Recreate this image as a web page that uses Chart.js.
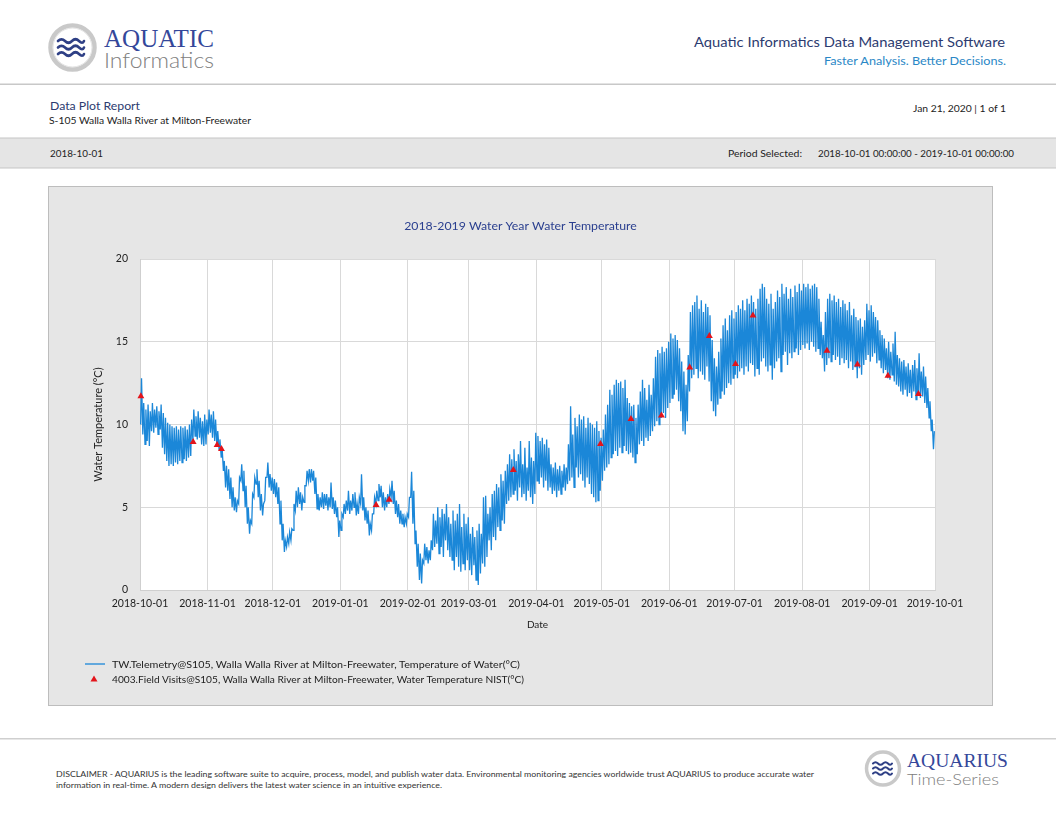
<!DOCTYPE html>
<html>
<head>
<meta charset="utf-8">
<script src="https://cdn.jsdelivr.net/npm/chart.js@4.4.0/dist/chart.umd.min.js"></script>
<style>
  html, body { margin: 0; padding: 0; background: #fff; }
  body { width: 1056px; height: 816px; position: relative; overflow: hidden; font-family: Lato, 'Open Sans', sans-serif; }
  #page { position: absolute; left: 0; top: 0; }
  #chartBox { position: absolute; left: 48px; top: 186px; width: 943px; height: 518px; background: #e6e6e6; border: 1px solid #bdbdbd; }
  #chartWrap { position: absolute; left: 0; top: 0; width: 943px; height: 460px; }
  #legend { position: absolute; left: 0; top: 0; }
</style>
</head>
<body>

<svg id="page" width="1056" height="816" xmlns="http://www.w3.org/2000/svg" font-family="Lato, 'Open Sans', sans-serif">
  <!-- header logo -->
  <circle cx="72.5" cy="47.5" r="22" fill="#fff" stroke="#c9c9c9" stroke-width="4.5"/>
  <circle cx="72.5" cy="47.5" r="19.5" fill="none" stroke="#e2e2e2" stroke-width="1"/>
  <g fill="none" stroke="#2e3f85" stroke-width="2.6" stroke-linecap="round">
    <path d="M58 41 q3.5 -3.5 7 0 t7 0 t7 0 t5 0"/>
    <path d="M58 47.5 q3.5 -3.5 7 0 t7 0 t7 0 t5 0"/>
    <path d="M58 54 q3.5 -3.5 7 0 t7 0 t7 0 t5 0"/>
  </g>
  <text x="104" y="38" dominant-baseline="central" font-family="'Liberation Serif', serif" font-size="26" fill="#34479a" textLength="110" lengthAdjust="spacingAndGlyphs">AQUATIC</text>
  <text x="104" y="59" dominant-baseline="central" font-size="21" font-weight="300" fill="#808080" textLength="110" lengthAdjust="spacingAndGlyphs">Informatics</text>

  <text x="1005" y="41.5" dominant-baseline="central" text-anchor="end" font-size="14" fill="#2c3b70" textLength="311" lengthAdjust="spacingAndGlyphs">Aquatic Informatics Data Management Software</text>
  <text x="1006" y="60" dominant-baseline="central" text-anchor="end" font-size="12" fill="#2a87c6" textLength="182" lengthAdjust="spacingAndGlyphs">Faster Analysis. Better Decisions.</text>

  <rect x="0" y="83.5" width="1056" height="1.5" fill="#c8c8c8"/>

  <text x="50" y="105" dominant-baseline="central" font-size="12" fill="#2c3b70" textLength="90" lengthAdjust="spacingAndGlyphs">Data Plot Report</text>
  <text x="49" y="119.5" dominant-baseline="central" font-size="10" fill="#222" textLength="202" lengthAdjust="spacingAndGlyphs">S-105 Walla Walla River at Milton-Freewater</text>
  <text x="1006" y="107.5" dominant-baseline="central" text-anchor="end" font-size="10" fill="#222" textLength="93" lengthAdjust="spacingAndGlyphs">Jan 21, 2020 | 1 of 1</text>

  <rect x="0" y="138" width="1056" height="30" fill="#e5e5e5"/>
  <rect x="0" y="137.5" width="1056" height="1" fill="#c6c6c6"/>
  <rect x="0" y="167.5" width="1056" height="1" fill="#c6c6c6"/>
  <text x="50" y="153" dominant-baseline="central" font-size="9.5" fill="#222" textLength="53" lengthAdjust="spacingAndGlyphs">2018-10-01</text>
  <text x="728" y="153" dominant-baseline="central" font-size="9.5" fill="#222" textLength="74" lengthAdjust="spacingAndGlyphs">Period Selected:</text>
  <text x="818" y="153" dominant-baseline="central" font-size="9.5" fill="#222" textLength="196" lengthAdjust="spacingAndGlyphs">2018-10-01 00:00:00 - 2019-10-01 00:00:00</text>

  <!-- footer -->
  <rect x="0" y="738" width="1056" height="1.5" fill="#cfcfcf"/>
  <text x="56" y="774" dominant-baseline="central" font-size="7.5" fill="#333" textLength="758" lengthAdjust="spacingAndGlyphs">DISCLAIMER - AQUARIUS is the leading software suite to acquire, process, model, and publish water data. Environmental monitoring agencies worldwide trust AQUARIUS to produce accurate water</text>
  <text x="56" y="785" dominant-baseline="central" font-size="7.5" fill="#333" textLength="386" lengthAdjust="spacingAndGlyphs">information in real-time. A modern design delivers the latest water science in an intuitive experience.</text>

  <circle cx="883" cy="768.5" r="16.5" fill="#fff" stroke="#c9c9c9" stroke-width="3.5"/>
  <g fill="none" stroke="#2e3f85" stroke-width="2" stroke-linecap="round">
    <path d="M873 763.5 q2.5 -2.5 5 0 t5 0 t5 0 t4 0"/>
    <path d="M873 768.5 q2.5 -2.5 5 0 t5 0 t5 0 t4 0"/>
    <path d="M873 773.5 q2.5 -2.5 5 0 t5 0 t5 0 t4 0"/>
  </g>
  <text x="907" y="760" dominant-baseline="central" font-family="'Liberation Serif', serif" font-size="19" fill="#34479a" textLength="101" lengthAdjust="spacingAndGlyphs">AQUARIUS</text>
  <text x="907" y="778" dominant-baseline="central" font-size="16" font-weight="300" fill="#808080" textLength="92" lengthAdjust="spacingAndGlyphs">Time-Series</text>
</svg>

<div id="chartBox">
  <div id="chartWrap"><canvas id="chart"></canvas></div>
  <svg id="legend" width="943" height="518" xmlns="http://www.w3.org/2000/svg" font-family="Lato, 'Open Sans', sans-serif">
    <line x1="36" y1="477" x2="56" y2="477" stroke="#1b87d8" stroke-width="1.3"/>
    <text x="63" y="477" dominant-baseline="central" font-size="10" fill="#222" textLength="408" lengthAdjust="spacingAndGlyphs">TW.Telemetry@S105, Walla Walla River at Milton-Freewater, Temperature of Water(°C)</text>
    <path d="M45 488.5 L48.5 494.5 L41.5 494.5 Z" fill="#e3141b"/>
    <text x="63" y="492" dominant-baseline="central" font-size="10" fill="#222" textLength="412" lengthAdjust="spacingAndGlyphs">4003.Field Visits@S105, Walla Walla River at Milton-Freewater, Water Temperature NIST(°C)</text>
  </svg>
</div>

<script>
// month starts shown on the x axis
const tickLabels = ['2018-10-01', '2018-11-01', '2018-12-01', '2019-01-01', '2019-02-01', '2019-03-01',
  '2019-04-01', '2019-05-01', '2019-06-01', '2019-07-01', '2019-08-01', '2019-09-01', '2019-10-01']
const yTicks = [0, 5, 10, 15, 20]
const chartTitle = '2018-2019 Water Year Water Temperature'

// telemetry: daily low (morning) and high (afternoon) water temperature, °C, from 2018-10-01
const dailyLow = [
  10.0,9.4,8.8,9.0,8.7,9.6,9.5,9.8,9.4,9.7,8.6,8.2,7.8,7.5,7.6,7.5,7.7,7.6,7.8,7.7,7.9,7.8,8.0,8.1,9.0,9.3,9.1,9.2,8.8,8.7,8.8, // Oct
  9.4,9.5,9.2,9.0,8.7,8.5,8.0,7.2,6.2,6.0,5.5,5.0,4.8,4.7,5.2,6.6,6.0,5.0,4.0,3.4,4.0,5.6,6.4,5.6,4.8,4.5,5.4,6.8,6.2,6.0, // Nov
  5.8,5.6,5.2,4.0,3.0,2.3,2.6,2.8,3.0,3.6,4.8,5.0,5.2,4.8,5.3,6.3,6.6,6.5,6.6,5.8,4.9,4.8,5.0,4.9,5.1,4.8,5.0,4.9,4.6,4.4,3.2, // Dec
  3.6,4.4,4.6,4.8,4.6,4.8,5.0,4.5,4.6,5.2,4.8,4.2,4.0,3.3,3.6,4.6,5.2,5.4,5.6,5.0,4.8,5.0,5.2,5.6,5.2,4.6,4.4,4.0,4.0,3.8,4.0, // Jan
  4.4,5.6,4.0,2.8,1.4,0.6,0.4,1.6,1.8,1.6,1.8,2.4,2.6,2.8,2.2,2.6,2.0,3.0,2.4,2.0,1.8,1.2,2.0,1.4,1.1,1.6,1.2,1.8, // Feb
  1.2,0.9,1.5,0.6,0.3,1.0,1.6,1.4,2.0,3.0,2.4,3.2,3.0,3.8,3.6,4.2,4.0,5.2,5.4,5.6,5.8,6.0,5.4,6.2,5.6,5.8,5.4,6.0,5.6,5.2,5.8, // Mar
  6.6,6.4,6.8,6.2,6.6,6.0,6.2,5.8,6.0,5.6,6.0,5.8,6.2,6.0,6.4,6.6,6.8,6.2,7.4,6.8,7.0,6.6,6.2,6.8,6.4,5.8,5.6,5.3,5.4,6.0, // Apr
  6.6,7.2,7.4,7.6,8.0,8.2,8.4,8.1,8.6,8.3,8.7,8.4,8.2,8.3,8.0,7.7,8.2,8.8,9.0,8.7,9.2,9.0,9.3,9.6,9.9,10.2,10.0,10.4,10.7,10.4,11.0, // May
  11.3,11.6,11.8,12.1,11.4,10.8,9.6,9.4,10.2,12.0,12.8,13.0,13.4,12.8,13.2,13.0,12.7,13.5,12.6,11.4,10.8,10.5,11.2,11.6,12.0,11.8,12.2,12.5,12.4,12.8, // Jun
  13.0,12.8,13.2,13.4,13.0,13.5,13.2,13.7,13.6,12.9,13.4,13.0,13.8,14.0,13.5,13.2,13.6,12.7,13.4,13.8,14.0,13.2,14.2,14.4,13.6,14.3,14.0,14.4,14.6,14.2,14.5, // Jul
  14.8,14.6,14.9,14.5,15.0,14.7,14.4,14.6,14.2,14.0,13.2,13.6,14.0,13.8,14.2,13.9,14.1,13.6,14.0,13.7,13.9,13.4,13.8,13.3,13.5,12.8,13.4,13.0,13.6,13.9,14.2, // Aug
  13.8,14.1,14.3,13.7,13.9,13.4,13.1,13.3,12.8,12.7,13.0,12.6,12.4,12.3,12.0,11.8,12.1,11.7,11.9,11.6,12.0,11.5,11.8,11.6,11.7,11.3,11.0,10.4,9.6,8.5 // Sep
]
const dailyHigh = [
  12.8,11.3,10.9,11.2,10.8,11.3,10.9,11.1,10.8,11.2,10.7,10.4,10.1,10.0,9.9,9.8,9.9,9.7,9.9,9.8,9.9,9.7,10.0,10.3,10.9,10.5,10.8,10.4,10.2,10.6,10.3, // Oct
  10.9,10.6,10.8,10.3,9.6,9.1,8.6,7.8,7.5,7.3,6.8,6.2,5.6,5.4,6.8,7.6,7.2,6.3,5.0,4.2,5.8,6.8,7.3,6.6,5.8,5.2,6.8,7.7,7.0,6.8, // Nov
  6.7,6.5,6.2,5.4,4.0,3.0,3.2,3.5,3.7,5.2,6.0,6.2,5.9,5.6,6.3,7.2,7.3,7.3,7.2,6.8,5.8,5.6,5.9,5.8,5.8,5.6,6.5,5.6,5.4,5.0,4.2, // Dec
  4.6,5.2,5.4,6.0,5.4,5.8,5.9,5.2,5.6,7.0,5.6,5.0,4.8,4.0,4.6,5.6,6.0,6.4,6.3,5.9,5.6,5.8,6.1,6.6,6.0,5.4,5.2,4.8,4.6,4.4,4.6, // Jan
  5.6,7.15,6.0,3.6,2.8,2.2,1.8,2.8,2.6,2.4,3.0,4.6,4.2,5.0,4.4,4.9,4.6,5.2,4.4,4.0,4.8,4.2,4.6,5.2,3.8,4.6,4.0,4.4, // Feb
  3.4,3.8,3.2,3.6,4.0,3.4,5.6,5.7,4.6,5.0,5.8,6.0,6.4,6.2,7.0,6.6,7.2,7.6,8.2,7.9,8.5,7.8,8.2,9.0,7.6,8.6,7.4,9.0,8.0,7.8,9.5, // Mar
  9.3,9.0,9.2,8.8,9.1,8.6,7.6,7.4,7.7,7.3,7.5,7.2,7.6,7.4,8.8,11.1,9.4,10.4,9.9,10.6,10.3,10.5,9.8,10.4,10.1,10.0,9.8,10.2,9.6,9.2, // Apr
  9.7,10.6,11.2,12.1,11.8,12.4,12.7,12.5,12.6,12.2,12.7,11.6,11.3,11.1,11.2,10.4,11.2,12.0,12.7,12.2,11.5,12.4,11.8,12.8,14.1,14.5,14.3,14.7,14.4,14.6,15.0, // May
  15.5,15.2,15.4,15.1,14.6,13.8,13.2,12.4,14.2,16.8,17.2,17.4,17.8,17.0,17.5,16.8,17.3,17.1,16.6,15.1,14.0,13.5,14.4,15.2,16.0,16.4,15.7,16.6,16.9,16.4, // Jun
  16.8,17.2,17.0,17.5,16.9,17.6,17.3,17.8,17.4,17.0,17.6,18.2,18.5,18.3,17.6,17.3,17.9,17.0,17.4,18.1,17.7,18.5,17.9,18.3,17.6,18.2,17.7,18.4,18.0,18.5,18.1, // Jul
  18.5,18.3,18.5,18.2,18.4,18.5,18.3,17.6,16.2,15.4,16.8,17.6,17.9,17.5,17.8,17.4,17.6,17.1,17.5,17.3,16.9,17.4,16.6,17.0,16.5,16.3,16.4,15.9,16.3,17.3,16.9, // Aug
  17.2,16.8,16.5,16.3,15.7,15.4,15.2,14.6,15.0,14.4,14.9,15.6,14.2,14.0,13.8,13.9,13.5,13.7,13.3,13.6,13.9,13.4,14.3,13.2,13.5,12.9,12.2,11.4,10.3,9.6 // Sep
]

// field visit readings
const visitDates = ['2018-10-01', '2018-10-25', '2018-11-05', '2018-11-07', '2019-01-17', '2019-01-23',
  '2019-03-21', '2019-04-30', '2019-05-14', '2019-05-28', '2019-06-10', '2019-06-19', '2019-07-01',
  '2019-07-09', '2019-08-12', '2019-08-26', '2019-09-09', '2019-09-23']
const visitTemps = [11.7, 8.94, 8.76, 8.52, 5.14, 5.46, 7.25, 8.82, 10.33, 10.55, 13.45, 15.35, 13.65,
  16.58, 14.46, 13.63, 12.95, 11.84]

function dayOf(s) {
  const p = s.split('-').map(Number)
  return (Date.UTC(p[0], p[1] - 1, p[2]) - Date.UTC(2018, 9, 1)) / 86400000
}
const tickDays = tickLabels.map(dayOf)

const telemetry = []
dailyLow.forEach((lo, d) => {
  telemetry.push({ x: d + 0.3, y: lo })
  telemetry.push({ x: d + 0.7, y: dailyHigh[d] })
})
const visits = visitDates.map((s, i) => ({ x: dayOf(s) + 0.4, y: visitTemps[i] }))

Chart.defaults.font.family = "Lato, 'Open Sans', sans-serif"
Chart.defaults.color = '#222'

// white plot area on the grey panel
const plotBackground = {
  id: 'plotBackground',
  beforeDraw(chart) {
    const { ctx, chartArea } = chart
    ctx.save()
    ctx.fillStyle = '#ffffff'
    ctx.fillRect(chartArea.left, chartArea.top, chartArea.right - chartArea.left, chartArea.bottom - chartArea.top)
    ctx.restore()
  }
}

// title sits a little left of the plot centre in the original report
const reportTitle = {
  id: 'reportTitle',
  afterDraw(chart) {
    const { ctx } = chart
    ctx.save()
    ctx.font = "12.3px Lato, 'Open Sans', sans-serif"
    ctx.fillStyle = '#2a3f8f'
    ctx.textAlign = 'center'
    ctx.textBaseline = 'middle'
    ctx.fillText(chartTitle, 471.5, 39.5)
    ctx.restore()
  }
}

new Chart(document.getElementById('chart'), {
  type: 'line',
  data: {
    datasets: [
      {
        label: '4003.Field Visits@S105, Walla Walla River at Milton-Freewater, Water Temperature NIST(°C)',
        data: visits,
        showLine: false,
        pointStyle: 'triangle',
        pointRadius: 4,
        pointBackgroundColor: '#e3141b',
        pointBorderColor: '#e3141b',
        pointBorderWidth: 0,
        clip: false,
        order: 0
      },
      {
        label: 'TW.Telemetry@S105, Walla Walla River at Milton-Freewater, Temperature of Water(°C)',
        data: telemetry,
        borderColor: '#1b87d8',
        borderWidth: 1.3,
        pointRadius: 0,
        tension: 0,
        order: 1
      }
    ]
  },
  options: {
    responsive: true,
    maintainAspectRatio: false,
    animation: false,
    events: [],
    layout: { padding: { left: 0, right: 57, top: 72, bottom: 0 } },
    plugins: {
      legend: { display: false },
      tooltip: { enabled: false },
      title: { display: false }
    },
    scales: {
      x: {
        type: 'linear',
        min: tickDays[0],
        max: tickDays[tickDays.length - 1],
        afterBuildTicks: (scale) => { scale.ticks = tickDays.map(v => ({ value: v })) },
        afterFit: (scale) => { scale.height = 57 },
        grid: { color: '#d9d9d9', drawTicks: false },
        border: { color: '#cfcfcf' },
        ticks: {
          autoSkip: false,
          maxRotation: 0,
          padding: 7,
          font: { size: 10.5 },
          callback: (v, i) => tickLabels[i]
        },
        title: { display: true, text: 'Date', font: { size: 10 }, padding: { top: 0, bottom: 16 } }
      },
      y: {
        min: yTicks[0],
        max: yTicks[yTicks.length - 1],
        afterBuildTicks: (scale) => { scale.ticks = yTicks.map(v => ({ value: v })) },
        afterFit: (scale) => { scale.width = 91 },
        grid: { color: '#d9d9d9', drawTicks: false },
        border: { color: '#cfcfcf' },
        ticks: { padding: 12, font: { size: 10.5 } },
        title: { display: true, text: 'Water Temperature (°C)', font: { size: 11 }, padding: { top: 43, bottom: 0 } }
      }
    }
  },
  plugins: [plotBackground, reportTitle]
})
</script>
</body>
</html>
